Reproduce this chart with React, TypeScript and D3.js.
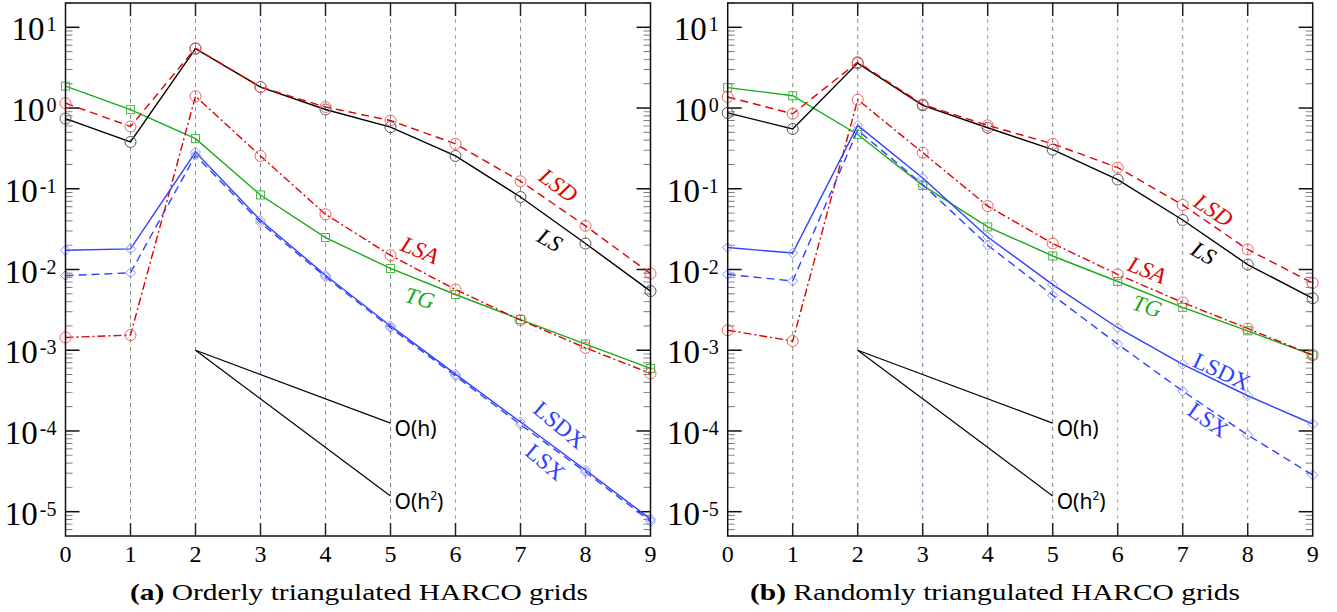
import React from "react";
import * as d3 from "d3";

const xs = [0, 1, 2, 3, 4, 5, 6, 7, 8, 9];
const xTickLabels = ["0", "1", "2", "3", "4", "5", "6", "7", "8", "9"];
const yDecades = [1, 0, -1, -2, -3, -4, -5];

// Panel (a): orderly triangulated
const aLS = [0.74, 0.38, 5.43, 1.82, 0.96, 0.58, 0.255, 0.079, 0.021, 0.0054];
const aLSD = [1.15, 0.59, 5.5, 1.82, 1.03, 0.7, 0.36, 0.124, 0.0347, 0.0089];
const aLSA = [0.00144, 0.00154, 1.4, 0.255, 0.0483, 0.015, 0.00565, 0.00236, 0.00107, 0.000516];
const aTG = [1.87, 0.955, 0.418, 0.0838, 0.0249, 0.0103, 0.0049, 0.0024, 0.00119, 0.000595];
const aLSDX = [0.0173, 0.018, 0.285, 0.0407, 0.0085, 0.002, 0.000506, 0.000129, 0.0000328, 0.0000081];
const aLSX = [0.0084, 0.0091, 0.26, 0.038, 0.0081, 0.0019, 0.00048, 0.00012, 0.000031, 0.0000076];

// Panel (b): randomly triangulated
const bLS = [0.87, 0.55, 3.6, 1.08, 0.57, 0.305, 0.13, 0.041, 0.0115, 0.0044];
const bLSD = [1.37, 0.85, 3.7, 1.11, 0.61, 0.36, 0.183, 0.063, 0.0177, 0.0068];
const bLSA = [0.00177, 0.0013, 1.27, 0.28, 0.061, 0.021, 0.0087, 0.0039, 0.00186, 0.00087];
const bTG = [1.79, 1.42, 0.47, 0.11, 0.0337, 0.0147, 0.0071, 0.0034, 0.00174, 0.00087];
const bLSDX = [0.0187, 0.016, 0.61, 0.136, 0.0253, 0.0065, 0.0019, 0.00067, 0.000273, 0.000122];
const bLSX = [0.0087, 0.0072, 0.53, 0.113, 0.02, 0.0048, 0.00119, 0.000312, 0.000089, 0.0000285];

// reference slopes
const refX = [2, 5];
const refOh = [1e-3, 1.25e-4];
const refOh2 = [1e-3, 1.5625e-5];

const captionA = ["(a)", " Orderly triangulated HARCO grids"];
const captionB = ["(b)", " Randomly triangulated HARCO grids"];

type SeriesStyle = {
  name: string;
  color: string;
  markerColor: string;
  dash: string;
  marker: "circle" | "square" | "diamond";
  italic: boolean;
};

const styles: Record<string, SeriesStyle> = {
  LS: { name: "LS", color: "#000000", markerColor: "#555555", dash: "", marker: "circle", italic: true },
  LSD: { name: "LSD", color: "#e00000", markerColor: "#f06060", dash: "8,5", marker: "circle", italic: true },
  LSA: { name: "LSA", color: "#e00000", markerColor: "#f06060", dash: "8,3,2,3", marker: "circle", italic: true },
  TG: { name: "TG", color: "#1aaa1a", markerColor: "#44bb44", dash: "", marker: "square", italic: true },
  LSDX: { name: "LSDX", color: "#3040ff", markerColor: "#8890ff", dash: "", marker: "diamond", italic: false },
  LSX: { name: "LSX", color: "#3040ff", markerColor: "#8890ff", dash: "8,5", marker: "diamond", italic: false },
};

type PanelProps = {
  x0: number;
  series: { key: string; values: number[] }[];
  labels: { key: string; x: number; y: number; rot: number }[];
  caption: string[];
  captionX: number;
  captionWidth: number;
};

const gridColors = ["", "#7a967a", "#888888", "#7474b0", "#88aa88", "#7a7a7a", "#aaaaaa", "#888888", "#999999"];

function Marker({ kind, cx, cy, color }: { kind: string; cx: number; cy: number; color: string }) {
  if (kind === "circle") return <circle cx={cx} cy={cy} r={5.5} fill="none" stroke={color} strokeWidth={1} />;
  if (kind === "square") return <rect x={cx - 4} y={cy - 4} width={8} height={8} fill="none" stroke={color} strokeWidth={1} />;
  return <path d={`M${cx},${cy - 5}L${cx + 5},${cy}L${cx},${cy + 5}L${cx - 5},${cy}Z`} fill="none" stroke={color} strokeWidth={1} />;
}

function Panel({ x0, series, labels, caption, captionX, captionWidth }: PanelProps) {
  const top = 3;
  const bottom = 536;
  const x = d3.scaleLinear().domain([0, 9]).range([x0, x0 + 585]);
  const y = d3.scaleLog().domain([5e-6, 20]).range([bottom, top]);
  const line = d3
    .line<number>()
    .x((_, i) => x(xs[i]))
    .y((d) => y(d));
  const refLine = d3
    .line<number>()
    .x((_, i) => x(refX[i]))
    .y((d) => y(d));
  const right = x(9);

  const minors: number[] = [];
  for (let e = -6; e <= 1; e++) {
    for (let m = 2; m <= 9; m++) {
      const v = m * Math.pow(10, e);
      if (v >= 5e-6 && v <= 20) minors.push(v);
    }
  }

  return (
    <g>
      {/* vertical dashed grid */}
      {xs.slice(1, 9).map((v) => (
        <line key={"g" + v} x1={x(v)} x2={x(v)} y1={top} y2={bottom} stroke={gridColors[v]} strokeWidth={1} strokeDasharray="4,4" />
      ))}
      {/* ticks x */}
      {xs.slice(1, 9).map((v) => (
        <g key={"xt" + v}>
          <line x1={x(v)} x2={x(v)} y1={top} y2={top + 13} stroke="#222" strokeWidth={1.5} />
          <line x1={x(v)} x2={x(v)} y1={bottom} y2={bottom - 13} stroke="#222" strokeWidth={1.5} />
        </g>
      ))}
      {/* y ticks */}
      {yDecades.map((e) => (
        <g key={"yt" + e}>
          <line x1={x0} x2={x0 + 14} y1={y(Math.pow(10, e))} y2={y(Math.pow(10, e))} stroke="#111" strokeWidth={1.5} />
          <line x1={right} x2={right - 14} y1={y(Math.pow(10, e))} y2={y(Math.pow(10, e))} stroke="#111" strokeWidth={1.5} />
        </g>
      ))}
      {minors.map((v, i) => (
        <g key={"ym" + i}>
          <line x1={x0} x2={x0 + 7} y1={y(v)} y2={y(v)} stroke={i % 3 === 1 ? "#8888bb" : "#777"} strokeWidth={1} />
          <line x1={right} x2={right - 7} y1={y(v)} y2={y(v)} stroke={i % 3 === 1 ? "#8888bb" : "#777"} strokeWidth={1} />
        </g>
      ))}
      {/* y labels */}
      {yDecades.map((e) => (
        <text
          key={"yl" + e}
          x={x0 - 9}
          y={y(Math.pow(10, e)) + 13}
          fontFamily="Liberation Serif, serif"
          fontSize={33}
          textAnchor="end"
          fill="#000"
        >
          10
          <tspan dx={2} dy={-9} fontSize={20}>
            {e < 0 ? "-" + -e : String(e)}
          </tspan>
        </text>
      ))}
      {/* x labels */}
      {xs.map((v, i) => (
        <text key={"xl" + v} x={x(v)} y={562} fontSize={24} textAnchor="middle" fontFamily="Liberation Serif, serif">
          {xTickLabels[i]}
        </text>
      ))}
      {/* reference slope lines */}
      <path d={refLine(refOh) || ""} fill="none" stroke="#000" strokeWidth={1.2} />
      <path d={refLine(refOh2) || ""} fill="none" stroke="#000" strokeWidth={1.2} />
      <text x={x(refX[1]) + 4} y={y(refOh[1]) + 13} fontSize={21} fontFamily="Noto Sans, sans-serif">
        O(h)
      </text>
      <text x={x(refX[1]) + 4} y={y(refOh2[1]) + 13} fontSize={21} fontFamily="Noto Sans, sans-serif">
        O(h
        <tspan dy={-9} fontSize={12}>2</tspan>
        <tspan dy={9}>)</tspan>
      </text>
      {/* series */}
      {series.map((s) => {
        const st = styles[s.key];
        return (
          <g key={s.key}>
            <path d={line(s.values) || ""} fill="none" stroke={st.color} strokeWidth={1.4} strokeDasharray={st.dash} />
            {s.values.map((v, i) => (
              <Marker key={i} kind={st.marker} cx={x(xs[i])} cy={y(v)} color={st.markerColor} />
            ))}
          </g>
        );
      })}
      {/* series labels */}
      {labels.map((l) => {
        const st = styles[l.key];
        const px = x(l.x);
        const py = y(l.y);
        return (
          <text
            key={"lab" + l.key}
            x={px}
            y={py}
            fontSize={23}
            fontFamily="Liberation Serif, serif"
            fontStyle={st.italic ? "italic" : "normal"}
            fill={st.color === "#000000" ? "#000" : st.color}
            textAnchor="middle"
            dominantBaseline="central"
            transform={`rotate(${l.rot},${px},${py})`}
          >
            {l.key}
          </text>
        );
      })}
      {/* frame */}
      <rect x={x0} y={top} width={585} height={bottom - top} fill="none" stroke="#111" strokeWidth={1.5} />
      {/* caption */}
      <text x={captionX} y={600} fontSize={23} fontFamily="Liberation Serif, serif" textLength={captionWidth} lengthAdjust="spacingAndGlyphs">
        <tspan fontWeight="bold">{caption[0]}</tspan>
        <tspan>{caption[1]}</tspan>
      </text>
    </g>
  );
}

export default function App() {
  const seriesA = [
    { key: "TG", values: aTG },
    { key: "LSA", values: aLSA },
    { key: "LSX", values: aLSX },
    { key: "LSDX", values: aLSDX },
    { key: "LS", values: aLS },
    { key: "LSD", values: aLSD },
  ];
  const seriesB = [
    { key: "TG", values: bTG },
    { key: "LSA", values: bLSA },
    { key: "LSX", values: bLSX },
    { key: "LSDX", values: bLSDX },
    { key: "LS", values: bLS },
    { key: "LSD", values: bLSD },
  ];
  const labelsA = [
    { key: "LSD", x: 7.58, y: 0.11, rot: 36 },
    { key: "LS", x: 7.45, y: 0.023, rot: 30 },
    { key: "LSA", x: 5.45, y: 0.0173, rot: 22 },
    { key: "TG", x: 5.45, y: 0.0044, rot: 15 },
    { key: "LSDX", x: 7.6, y: 0.000118, rot: 40 },
    { key: "LSX", x: 7.38, y: 0.000041, rot: 40 },
  ];
  const labelsB = [
    { key: "LSD", x: 7.47, y: 0.054, rot: 33 },
    { key: "LS", x: 7.32, y: 0.0159, rot: 30 },
    { key: "LSA", x: 6.45, y: 0.0098, rot: 22 },
    { key: "TG", x: 6.45, y: 0.0035, rot: 17 },
    { key: "LSDX", x: 7.6, y: 0.00054, rot: 25 },
    { key: "LSX", x: 7.39, y: 0.000136, rot: 35 },
  ];
  return (
    <svg width={1337} height={612} style={{ position: "absolute", left: 0, top: 0, background: "#fff" }}>
      <rect width={1337} height={612} fill="#fff" />
      <Panel x0={65.5} series={seriesA} labels={labelsA} caption={captionA} captionX={130} captionWidth={458} />
      <Panel x0={727.7} series={seriesB} labels={labelsB} caption={captionB} captionX={750} captionWidth={490} />
    </svg>
  );
}
